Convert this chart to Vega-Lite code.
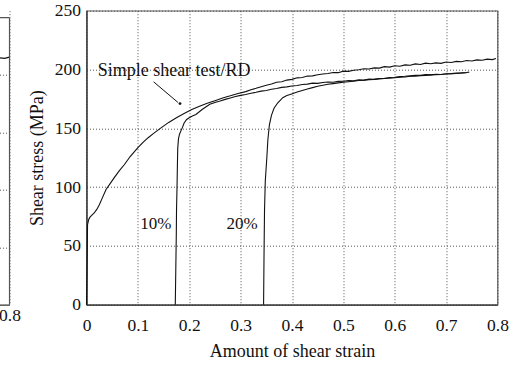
{
  "$schema": "https://vega.github.io/schema/vega-lite/v6.json",
  "background": "white",
  "padding": {"left": -391.5, "top": 0.7, "right": 0, "bottom": 0},
  "bounds": "flush",
  "spacing": 77,
  "config": {
    "font": "Liberation Serif",
    "view": {"stroke": "#555", "strokeWidth": 1.2},
    "axis": {
      "labelFont": "Liberation Serif",
      "titleFont": "Liberation Serif",
      "labelColor": "#111",
      "titleColor": "#111",
      "labelFontSize": 17.5,
      "titleFontSize": 18,
      "titleFontWeight": "normal",
      "grid": true,
      "gridColor": "#555",
      "gridDash": [1, 2],
      "gridWidth": 1,
      "gridOpacity": 1,
      "ticks": false,
      "domainColor": "#333",
      "domainWidth": 1.2,
      "labelFlush": false,
      "labelOverlap": false
    }
  },
  "datasets": {
    "leftCurve": [
      {"strain": 0.75, "stress": 213.5},
      {"strain": 0.76, "stress": 214.5},
      {"strain": 0.77, "stress": 213.8},
      {"strain": 0.78, "stress": 215.0},
      {"strain": 0.79, "stress": 214.6},
      {"strain": 0.8, "stress": 215.6}
    ],
    "leftFrame": [
      {"strain": 0, "stress": 250, "strainEnd": 0.8, "stressEnd": 250},
      {"strain": 0.8, "stress": 0, "strainEnd": 0.8, "stressEnd": 250}
    ],
    "curves": [
      {"series": "0%", "strain": 0, "stress": 0},
      {"series": "0%", "strain": 0.001, "stress": 30},
      {"series": "0%", "strain": 0.002, "stress": 68},
      {"series": "0%", "strain": 0.004, "stress": 72},
      {"series": "0%", "strain": 0.006, "stress": 74},
      {"series": "0%", "strain": 0.01, "stress": 76},
      {"series": "0%", "strain": 0.015, "stress": 78},
      {"series": "0%", "strain": 0.02, "stress": 81},
      {"series": "0%", "strain": 0.025, "stress": 85},
      {"series": "0%", "strain": 0.03, "stress": 90},
      {"series": "0%", "strain": 0.038, "stress": 98},
      {"series": "0%", "strain": 0.046, "stress": 103},
      {"series": "0%", "strain": 0.054, "stress": 108},
      {"series": "0%", "strain": 0.064, "stress": 114},
      {"series": "0%", "strain": 0.0735, "stress": 119},
      {"series": "0%", "strain": 0.085, "stress": 126},
      {"series": "0%", "strain": 0.0996, "stress": 133.4},
      {"series": "0%", "strain": 0.11, "stress": 138},
      {"series": "0%", "strain": 0.12, "stress": 142},
      {"series": "0%", "strain": 0.13, "stress": 145.5},
      {"series": "0%", "strain": 0.145, "stress": 150.4},
      {"series": "0%", "strain": 0.16, "stress": 155},
      {"series": "0%", "strain": 0.175, "stress": 159},
      {"series": "0%", "strain": 0.19, "stress": 162.5},
      {"series": "0%", "strain": 0.205, "stress": 166},
      {"series": "0%", "strain": 0.22, "stress": 168.8},
      {"series": "0%", "strain": 0.235, "stress": 171.3},
      {"series": "0%", "strain": 0.25, "stress": 173.5},
      {"series": "0%", "strain": 0.265, "stress": 175.8},
      {"series": "0%", "strain": 0.28, "stress": 177.6},
      {"series": "0%", "strain": 0.295, "stress": 179.6},
      {"series": "0%", "strain": 0.31, "stress": 181.2},
      {"series": "0%", "strain": 0.32, "stress": 182.8},
      {"series": "0%", "strain": 0.33, "stress": 184.0},
      {"series": "0%", "strain": 0.34, "stress": 185.4},
      {"series": "0%", "strain": 0.35, "stress": 186.6},
      {"series": "0%", "strain": 0.36, "stress": 187.6},
      {"series": "0%", "strain": 0.37, "stress": 189.2},
      {"series": "0%", "strain": 0.38, "stress": 189.6},
      {"series": "0%", "strain": 0.39, "stress": 191.0},
      {"series": "0%", "strain": 0.4, "stress": 191.6},
      {"series": "0%", "strain": 0.41, "stress": 192.9},
      {"series": "0%", "strain": 0.42, "stress": 193.2},
      {"series": "0%", "strain": 0.43, "stress": 194.4},
      {"series": "0%", "strain": 0.44, "stress": 194.6},
      {"series": "0%", "strain": 0.45, "stress": 195.6},
      {"series": "0%", "strain": 0.46, "stress": 196.2},
      {"series": "0%", "strain": 0.47, "stress": 196.6},
      {"series": "0%", "strain": 0.48, "stress": 197.5},
      {"series": "0%", "strain": 0.49, "stress": 197.3},
      {"series": "0%", "strain": 0.5, "stress": 198.6},
      {"series": "0%", "strain": 0.51, "stress": 198.4},
      {"series": "0%", "strain": 0.52, "stress": 199.4},
      {"series": "0%", "strain": 0.53, "stress": 199.8},
      {"series": "0%", "strain": 0.54, "stress": 200.6},
      {"series": "0%", "strain": 0.55, "stress": 200.4},
      {"series": "0%", "strain": 0.56, "stress": 201.4},
      {"series": "0%", "strain": 0.57, "stress": 201.2},
      {"series": "0%", "strain": 0.58, "stress": 202.4},
      {"series": "0%", "strain": 0.59, "stress": 202.0},
      {"series": "0%", "strain": 0.6, "stress": 203.2},
      {"series": "0%", "strain": 0.61, "stress": 202.8},
      {"series": "0%", "strain": 0.62, "stress": 203.9},
      {"series": "0%", "strain": 0.63, "stress": 203.6},
      {"series": "0%", "strain": 0.64, "stress": 204.8},
      {"series": "0%", "strain": 0.65, "stress": 204.2},
      {"series": "0%", "strain": 0.66, "stress": 205.4},
      {"series": "0%", "strain": 0.67, "stress": 204.9},
      {"series": "0%", "strain": 0.68, "stress": 205.6},
      {"series": "0%", "strain": 0.69, "stress": 205.2},
      {"series": "0%", "strain": 0.7, "stress": 206.4},
      {"series": "0%", "strain": 0.71, "stress": 206.0},
      {"series": "0%", "strain": 0.72, "stress": 206.9},
      {"series": "0%", "strain": 0.73, "stress": 206.6},
      {"series": "0%", "strain": 0.74, "stress": 207.6},
      {"series": "0%", "strain": 0.75, "stress": 207.2},
      {"series": "0%", "strain": 0.76, "stress": 208.2},
      {"series": "0%", "strain": 0.77, "stress": 207.9},
      {"series": "0%", "strain": 0.78, "stress": 208.8},
      {"series": "0%", "strain": 0.79, "stress": 208.4},
      {"series": "0%", "strain": 0.797, "stress": 209.4},

      {"series": "10%", "strain": 0.1728, "stress": 0},
      {"series": "10%", "strain": 0.1738, "stress": 30},
      {"series": "10%", "strain": 0.1748, "stress": 60},
      {"series": "10%", "strain": 0.1752, "stress": 80},
      {"series": "10%", "strain": 0.1762, "stress": 100},
      {"series": "10%", "strain": 0.177, "stress": 120},
      {"series": "10%", "strain": 0.1776, "stress": 133},
      {"series": "10%", "strain": 0.179, "stress": 141},
      {"series": "10%", "strain": 0.181, "stress": 145},
      {"series": "10%", "strain": 0.184, "stress": 148},
      {"series": "10%", "strain": 0.187, "stress": 151},
      {"series": "10%", "strain": 0.19, "stress": 154.5},
      {"series": "10%", "strain": 0.195, "stress": 157.5},
      {"series": "10%", "strain": 0.2, "stress": 159},
      {"series": "10%", "strain": 0.206, "stress": 160.5},
      {"series": "10%", "strain": 0.213, "stress": 161.7},
      {"series": "10%", "strain": 0.225, "stress": 166},
      {"series": "10%", "strain": 0.24, "stress": 170.5},
      {"series": "10%", "strain": 0.25, "stress": 172},
      {"series": "10%", "strain": 0.26, "stress": 173.2},
      {"series": "10%", "strain": 0.27, "stress": 174.6},
      {"series": "10%", "strain": 0.28, "stress": 175.8},
      {"series": "10%", "strain": 0.29, "stress": 177.0},
      {"series": "10%", "strain": 0.3, "stress": 178.0},
      {"series": "10%", "strain": 0.31, "stress": 178.8},
      {"series": "10%", "strain": 0.32, "stress": 179.8},
      {"series": "10%", "strain": 0.33, "stress": 180.6},
      {"series": "10%", "strain": 0.34, "stress": 181.6},
      {"series": "10%", "strain": 0.35, "stress": 182.2},
      {"series": "10%", "strain": 0.36, "stress": 183.2},
      {"series": "10%", "strain": 0.37, "stress": 183.8},
      {"series": "10%", "strain": 0.38, "stress": 184.8},
      {"series": "10%", "strain": 0.39, "stress": 185.2},
      {"series": "10%", "strain": 0.4, "stress": 186.0},
      {"series": "10%", "strain": 0.41, "stress": 186.4},
      {"series": "10%", "strain": 0.42, "stress": 187.3},
      {"series": "10%", "strain": 0.43, "stress": 187.6},
      {"series": "10%", "strain": 0.44, "stress": 188.4},
      {"series": "10%", "strain": 0.45, "stress": 188.2},
      {"series": "10%", "strain": 0.46, "stress": 189.0},
      {"series": "10%", "strain": 0.47, "stress": 189.4},
      {"series": "10%", "strain": 0.48, "stress": 189.2},
      {"series": "10%", "strain": 0.49, "stress": 189.9},
      {"series": "10%", "strain": 0.5, "stress": 190.0},
      {"series": "10%", "strain": 0.51, "stress": 190.6},
      {"series": "10%", "strain": 0.52, "stress": 190.4},
      {"series": "10%", "strain": 0.53, "stress": 191.2},
      {"series": "10%", "strain": 0.54, "stress": 191.0},
      {"series": "10%", "strain": 0.55, "stress": 191.8},
      {"series": "10%", "strain": 0.56, "stress": 191.6},
      {"series": "10%", "strain": 0.57, "stress": 192.4},
      {"series": "10%", "strain": 0.58, "stress": 192.6},
      {"series": "10%", "strain": 0.59, "stress": 193.2},
      {"series": "10%", "strain": 0.6, "stress": 193.4},
      {"series": "10%", "strain": 0.61, "stress": 193.9},
      {"series": "10%", "strain": 0.62, "stress": 194.2},
      {"series": "10%", "strain": 0.63, "stress": 194.6},
      {"series": "10%", "strain": 0.64, "stress": 195.0},
      {"series": "10%", "strain": 0.65, "stress": 195.1},
      {"series": "10%", "strain": 0.66, "stress": 195.6},
      {"series": "10%", "strain": 0.67, "stress": 195.4},
      {"series": "10%", "strain": 0.68, "stress": 196.0},
      {"series": "10%", "strain": 0.69, "stress": 195.8},
      {"series": "10%", "strain": 0.7, "stress": 196.4},
      {"series": "10%", "strain": 0.71, "stress": 196.5},
      {"series": "10%", "strain": 0.72, "stress": 196.9},
      {"series": "10%", "strain": 0.73, "stress": 197.1},
      {"series": "10%", "strain": 0.74, "stress": 197.4},
      {"series": "10%", "strain": 0.745, "stress": 197.8},

      {"series": "20%", "strain": 0.3447, "stress": 0},
      {"series": "20%", "strain": 0.3455, "stress": 40},
      {"series": "20%", "strain": 0.3465, "stress": 80},
      {"series": "20%", "strain": 0.348, "stress": 105},
      {"series": "20%", "strain": 0.3495, "stress": 115},
      {"series": "20%", "strain": 0.351, "stress": 125},
      {"series": "20%", "strain": 0.353, "stress": 140},
      {"series": "20%", "strain": 0.356, "stress": 153},
      {"series": "20%", "strain": 0.36, "stress": 161},
      {"series": "20%", "strain": 0.365, "stress": 167},
      {"series": "20%", "strain": 0.372, "stress": 171.5},
      {"series": "20%", "strain": 0.382, "stress": 176},
      {"series": "20%", "strain": 0.39, "stress": 177.8},
      {"series": "20%", "strain": 0.398, "stress": 179},
      {"series": "20%", "strain": 0.41, "stress": 180.8},
      {"series": "20%", "strain": 0.42, "stress": 182.2},
      {"series": "20%", "strain": 0.43, "stress": 183.4},
      {"series": "20%", "strain": 0.44, "stress": 184.6},
      {"series": "20%", "strain": 0.45, "stress": 185.8},
      {"series": "20%", "strain": 0.46, "stress": 186.6},
      {"series": "20%", "strain": 0.47, "stress": 187.4},
      {"series": "20%", "strain": 0.48, "stress": 188.0},
      {"series": "20%", "strain": 0.49, "stress": 188.6},
      {"series": "20%", "strain": 0.5, "stress": 189.2},
      {"series": "20%", "strain": 0.51, "stress": 189.6},
      {"series": "20%", "strain": 0.52, "stress": 190.0},
      {"series": "20%", "strain": 0.53, "stress": 190.6},
      {"series": "20%", "strain": 0.54, "stress": 190.8},
      {"series": "20%", "strain": 0.55, "stress": 191.4},
      {"series": "20%", "strain": 0.56, "stress": 191.6},
      {"series": "20%", "strain": 0.57, "stress": 192.0},
      {"series": "20%", "strain": 0.58, "stress": 192.4},
      {"series": "20%", "strain": 0.59, "stress": 192.6},
      {"series": "20%", "strain": 0.6, "stress": 193.0},
      {"series": "20%", "strain": 0.61, "stress": 193.4},
      {"series": "20%", "strain": 0.62, "stress": 193.6},
      {"series": "20%", "strain": 0.63, "stress": 194.2},
      {"series": "20%", "strain": 0.64, "stress": 194.4},
      {"series": "20%", "strain": 0.65, "stress": 194.8},
      {"series": "20%", "strain": 0.66, "stress": 195.0},
      {"series": "20%", "strain": 0.67, "stress": 195.4},
      {"series": "20%", "strain": 0.68, "stress": 195.6},
      {"series": "20%", "strain": 0.69, "stress": 195.8},
      {"series": "20%", "strain": 0.7, "stress": 196.2},
      {"series": "20%", "strain": 0.71, "stress": 196.4},
      {"series": "20%", "strain": 0.72, "stress": 196.6},
      {"series": "20%", "strain": 0.73, "stress": 197.0},
      {"series": "20%", "strain": 0.74, "stress": 197.2}
    ],
    "pointer": [
      {"strain": 0.1307, "stress": 189.5, "strainEnd": 0.178, "stressEnd": 172}
    ],
    "pointerTip": [
      {"strain": 0.182, "stress": 171}
    ],
    "curveName": [
      {"strain": 0.0218, "stress": 194.6, "text": "Simple shear test/RD"}
    ],
    "prestrain": [
      {"strain": 0.135, "stress": 64, "text": "10%"},
      {"strain": 0.303, "stress": 64, "text": "20%"}
    ]
  },
  "hconcat": [
    {
      "width": 400,
      "height": 294,
      "view": {"stroke": null},
      "encoding": {
        "x": {
          "field": "strain",
          "type": "quantitative",
          "scale": {"domain": [0, 0.8], "nice": false},
          "axis": {"values": [0.8], "format": ".1~f", "title": null, "labelPadding": 2}
        },
        "y": {
          "field": "stress",
          "type": "quantitative",
          "scale": {"domain": [0, 256.1], "nice": false},
          "axis": {"values": [50, 100, 150, 200], "labels": false, "domain": false, "title": null}
        }
      },
      "layer": [
        {
          "data": {"name": "leftCurve"},
          "mark": {"type": "line", "color": "#111", "strokeWidth": 1.2}
        },
        {
          "data": {"name": "leftFrame"},
          "mark": {"type": "rule", "color": "#555", "strokeWidth": 1.2},
          "encoding": {
            "x2": {"field": "strainEnd"},
            "y2": {"field": "stressEnd"}
          }
        }
      ]
    },
    {
      "width": 411,
      "height": 294,
      "encoding": {
        "x": {
          "field": "strain",
          "type": "quantitative",
          "scale": {"domain": [0, 0.8], "nice": false},
          "axis": {
            "values": [0, 0.1, 0.2, 0.3, 0.4, 0.5, 0.6, 0.7, 0.8],
            "format": ".1~f",
            "title": "Amount of shear strain",
            "labelPadding": 12,
            "titlePadding": 8
          }
        },
        "y": {
          "field": "stress",
          "type": "quantitative",
          "scale": {"domain": [0, 250], "nice": false},
          "axis": {
            "values": [0, 50, 100, 150, 200, 250],
            "title": "Shear stress (MPa)",
            "labelPadding": 6,
            "titlePadding": 8
          }
        }
      },
      "layer": [
        {
          "data": {"name": "curves"},
          "mark": {"type": "line", "color": "#111", "strokeWidth": 1.1},
          "encoding": {
            "detail": {"field": "series", "type": "nominal"}
          }
        },
        {
          "data": {"name": "pointer"},
          "mark": {"type": "rule", "color": "#111", "strokeWidth": 1},
          "encoding": {
            "x2": {"field": "strainEnd"},
            "y2": {"field": "stressEnd"}
          }
        },
        {
          "data": {"name": "pointerTip"},
          "mark": {"type": "point", "filled": true, "color": "#111", "size": 8, "opacity": 1}
        },
        {
          "data": {"name": "curveName"},
          "mark": {"type": "text", "align": "left", "baseline": "alphabetic", "fontSize": 18, "color": "#111", "font": "Liberation Serif"},
          "encoding": {
            "text": {"field": "text"}
          }
        },
        {
          "data": {"name": "prestrain"},
          "mark": {"type": "text", "align": "center", "baseline": "alphabetic", "fontSize": 17, "color": "#111", "font": "Liberation Serif"},
          "encoding": {
            "text": {"field": "text"}
          }
        }
      ]
    }
  ]
}
